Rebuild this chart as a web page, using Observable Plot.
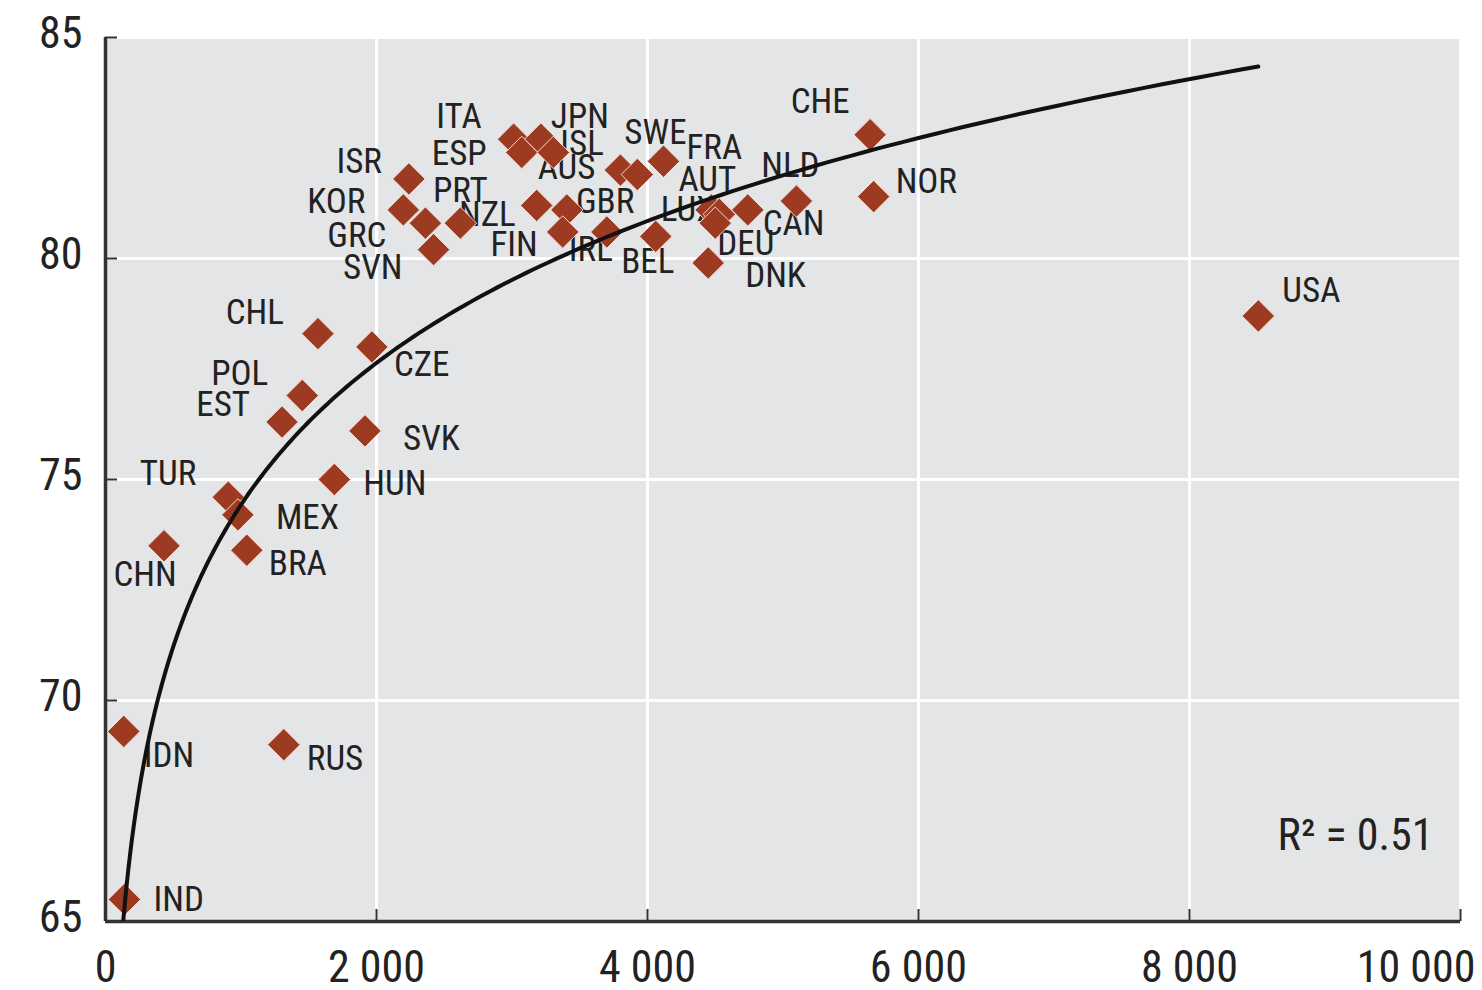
<!DOCTYPE html>
<html>
<head>
<meta charset="utf-8">
<script src="https://cdn.jsdelivr.net/npm/d3@7"></script>
<script src="https://cdn.jsdelivr.net/npm/@observablehq/plot@0.6"></script>
<style>
  html, body { margin: 0; padding: 0; background: #fff; }
  #chart svg { display: block; }
</style>
</head>
<body>
<div id="chart"></div>
<script>
// ---- Data ----
const countries = ["IND","IDN","RUS","CHN","TUR","MEX","BRA","HUN","SVK","EST","POL","CHL","CZE",
  "ISR","KOR","GRC","PRT","SVN","ITA","ESP","JPN","ISL","NZL","GBR","FIN","IRL","AUS","SWE","FRA",
  "BEL","LUX","AUT","DEU","CAN","DNK","NLD","CHE","NOR","USA"];
const spending = [140,135,1316,432,906,977,1043,1689,1915,1303,1452,1568,1966,
  2239,2198,2361,2619,2421,3012,3072,3213,3305,3182,3405,3374,3700,3800,3925,4118,
  4061,4470,4530,4500,4740,4448,5099,5643,5669,8508];
const lifeExp = [65.5,69.3,69.0,73.5,74.6,74.2,73.4,75.0,76.1,76.3,76.9,78.3,78.0,
  81.8,81.1,80.8,80.8,80.2,82.7,82.4,82.7,82.4,81.2,81.1,80.6,80.6,82.0,81.9,82.2,
  80.5,81.1,81.0,80.8,81.1,79.9,81.3,82.8,81.4,78.7];
const xTicks = [0, 2000, 4000, 6000, 8000, 10000];
const yTicks = [65, 70, 75, 80, 85];
const rSquaredText = "R\u00B2 = 0.51";
// Logarithmic trend line y = slope * ln(x) + intercept (coefficients)
const trendSlope = 4.632;
const trendIntercept = 42.43;

// ---- Label placement (style: anchor, dx, dy in px) ----
const labelPlacement = {
  IND:["start",29,0], IDN:["start",20,24], RUS:["start",23,14], CHN:["middle",-19,29],
  TUR:["end",-32,-23], MEX:["start",38,3], BRA:["start",22,14], HUN:["start",29,4],
  SVK:["start",38,8], EST:["end",-32,-17], POL:["end",-34,-22], CHL:["end",-34,-21],
  CZE:["start",22,18], ISR:["end",-27,-17], KOR:["end",-38,-8], GRC:["end",-39,13],
  PRT:["middle",0,-32], SVN:["end",-31,18], ITA:["end",-32,-22], ESP:["end",-35,1],
  JPN:["start",10,-22], ISL:["start",7,-9], NZL:["end",-21,9], GBR:["start",9,-8],
  FIN:["end",-25,13], IRL:["middle",-16,18], AUS:["end",-25,-2], SWE:["start",-13,-42],
  FRA:["start",23,-13], BEL:["middle",-8,25], LUX:["middle",-23,0], AUT:["middle",-12,-35],
  DEU:["start",2,21], CAN:["start",15,14], DNK:["start",37,13], NLD:["middle",-6,-35],
  CHE:["middle",-50,-33], NOR:["start",22,-15], USA:["start",24,-25]
};

const data = countries.map((c, i) => ({country: c, x: spending[i], y: lifeExp[i]}));

const xStart = Math.exp((65 - trendIntercept) / trendSlope);
const xEnd = d3.max(spending);
const trend = d3.range(0, 241).map(k => {
  const x = xStart * Math.pow(xEnd / xStart, k / 240);
  return {x, y: trendSlope * Math.log(x) + trendIntercept};
});

const fmt = d => d3.format(",")(d).replace(/,/g, " ");
const FONT = "'Liberation Sans Narrow', 'Arial Narrow', 'Roboto Condensed', 'DejaVu Sans Condensed', sans-serif";
const dotColor = "#9c3a22";

const labelMarks = data.map(d => {
  const [anchor, dx, dy] = labelPlacement[d.country];
  return Plot.text([d], {x: "x", y: "y", text: "country", textAnchor: anchor, dx, dy,
    fontSize: 35, fill: "#222", lineAnchor: "middle"});
});

const chart = Plot.plot({
  width: 1482,
  height: 990,
  marginLeft: 105,
  marginRight: 22,
  marginTop: 37,
  marginBottom: 69,
  style: {fontFamily: FONT, fontSize: "44px", color: "#222", background: "#fff", fontStretch: "condensed"},
  x: {domain: [0, 10000], label: null},
  y: {domain: [65, 85], label: null},
  marks: [
    Plot.frame({fill: "#e4e5e7", stroke: null}),
    Plot.gridX(xTicks, {stroke: "#fff", strokeOpacity: 1, strokeWidth: 3}),
    Plot.gridY(yTicks, {stroke: "#fff", strokeOpacity: 1, strokeWidth: 3}),
    Plot.ruleX([0], {stroke: "#333", strokeWidth: 3.5}),
    Plot.ruleY([65], {stroke: "#333", strokeWidth: 3.5}),
    Plot.axisX(xTicks, {tickSize: 12, dy: -12, text: null, label: null, stroke: "#333", strokeWidth: 2}),
    Plot.axisY(yTicks, {tickSize: 12, dx: 12, text: null, label: null, stroke: "#333", strokeWidth: 2}),
    Plot.axisX(xTicks.slice(0, -1), {tickSize: 0, tickPadding: 29, tickFormat: fmt, label: null, fill: "#222"}),
    Plot.axisX(xTicks.slice(-1), {tickSize: 0, tickPadding: 29, tickFormat: fmt, label: null, textAnchor: "end", dx: 15, fill: "#222"}),
    Plot.axisY(yTicks, {tickSize: 0, tickPadding: 23, label: null, dy: -4, fill: "#222"}),
    ...labelMarks,
    Plot.dot(data, {x: "x", y: "y", symbol: "diamond2", r: 14.6, fill: dotColor, stroke: "#f3d9d0", strokeWidth: 1}),
    Plot.line(trend, {x: "x", y: "y", stroke: "#111", strokeWidth: 4, clip: true}),
    Plot.text([rSquaredText], {frameAnchor: "bottom-right", dx: -27, dy: -86, lineAnchor: "middle", fontSize: 44, fill: "#222"})
  ]
});
document.getElementById("chart").appendChild(chart);
</script>
</body>
</html>
